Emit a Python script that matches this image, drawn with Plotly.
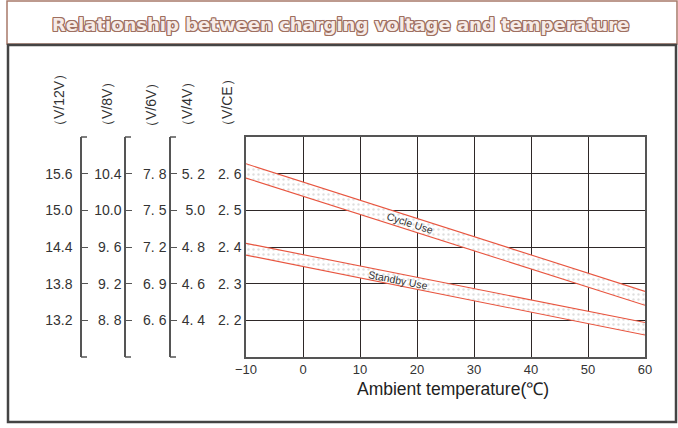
import numpy as np
import plotly.graph_objects as go

# ---- data ----
temps = [-10, 60]
cycle_upper = [2.627, 2.279]
cycle_lower = [2.588, 2.241]
standby_upper = [2.410, 2.194]
standby_lower = [2.378, 2.160]

x_ticks = [-10, 0, 10, 20, 30, 40, 50, 60]
ce_vals = [2.2, 2.3, 2.4, 2.5, 2.6]
ce_text = ["2. 2", "2. 3", "2. 4", "2. 5", "2. 6"]
v4_text = ["4. 4", "4. 6", "4. 8", "5.0", "5. 2"]
v6_text = ["6. 6", "6. 9", "7. 2", "7. 5", "7. 8"]
v8_text = ["8. 8", "9. 2", "9. 6", "10.0", "10.4"]
v12_text = ["13.2", "13.8", "14.4", "15.0", "15.6"]
col_titles = ["（V/12V）", "（V/8V）", "（V/6V）", "（V/4V）", "（V/CE）"]
multipliers = [6, 4, 3, 2, 1]

W, H = 678, 428
ML, MR, MT, MB = 0, 33, 137, 71
PW = W - ML - MR
PH = H - MT - MB


def px(xp):
    return (xp - ML) / PW


def py(yp):
    return (H - MB - yp) / PH


RED = "#e8553f"
FONT = "Liberation Sans, Arial, sans-serif"
pattern = dict(shape=".", fgcolor="#bdbdbd", bgcolor="white", size=5, solidity=0.18)

fig = go.Figure()
fig.add_trace(go.Scatter(x=temps, y=cycle_lower, mode="lines",
                         line=dict(color=RED, width=1.1), hoverinfo="skip", showlegend=False))
fig.add_trace(go.Scatter(x=temps, y=cycle_upper, mode="lines", fill="tonexty",
                         fillcolor="white", fillpattern=pattern,
                         line=dict(color=RED, width=1.1), hoverinfo="skip", showlegend=False))
fig.add_trace(go.Scatter(x=temps, y=standby_lower, mode="lines",
                         line=dict(color=RED, width=1.1), hoverinfo="skip", showlegend=False))
fig.add_trace(go.Scatter(x=temps, y=standby_upper, mode="lines", fill="tonexty",
                         fillcolor="white", fillpattern=pattern,
                         line=dict(color=RED, width=1.1), hoverinfo="skip", showlegend=False))

ymin, ymax = 2.1, 2.7
eps = 1e-4
layout_axes = {}
bracket_x = []
extra = [("y2", v12_text, 6, 81, True, 5), ("y3", v8_text, 4, 125, True, 0),
         ("y4", v6_text, 3, 170, True, 0), ("y5", v4_text, 2, 205, False, 0)]
for name, texts, k, xpos, line, standoff in extra:
    fig.add_trace(go.Scatter(x=[None], y=[None], yaxis=name, showlegend=False, hoverinfo="skip"))
    tv = [v * k for v in ce_vals]
    ax = dict(overlaying="y", anchor="free", position=px(xpos), side="left",
              range=[ymin * k - eps, ymax * k + eps], tickvals=tv, ticktext=texts, automargin=False,
              showgrid=False, zeroline=False, showline=line,
              linecolor="#555", linewidth=1.5, ticklabelstandoff=standoff,
              ticks="inside" if line else "", ticklen=6, tickwidth=1.2, tickcolor="#555",
              tickfont=dict(family=FONT, size=14, color="#333"))
    layout_axes["yaxis" + name[1:]] = ax
    if line:
        bracket_x.append(xpos)

fig.update_layout(
    width=W, height=H,
    margin=dict(l=ML, r=MR, t=MT, b=MB, autoexpand=False),
    paper_bgcolor="white", plot_bgcolor="white",
    xaxis=dict(domain=[px(246), 1], range=[-10, 60], tickvals=x_ticks, automargin=False,
               showgrid=True, gridcolor="#2e2828", gridwidth=1.3,
               showline=True, mirror=True, linecolor="#555", linewidth=1.5,
               zeroline=False, ticks="",
               tickfont=dict(family=FONT, size=13, color="#333")),
    yaxis=dict(range=[ymin, ymax], tickvals=ce_vals, ticktext=ce_text, automargin=False,
               showgrid=True, gridcolor="#2e2828", gridwidth=1.3,
               showline=True, mirror=True, linecolor="#555", linewidth=1.5,
               zeroline=False, ticks="",
               tickfont=dict(family=FONT, size=14, color="#333")),
    **layout_axes,
)

# bracket serifs (top and bottom of each left scale line)
for xb in bracket_x:
    for yb in (0, 1):
        fig.add_shape(type="line", xref="paper", yref="paper",
                      x0=px(xb), x1=px(xb + 6), y0=yb, y1=yb,
                      line=dict(color="#555", width=1.5))

# column titles
title_x = [59, 107, 151, 187, 227]
title_y = [100, 104, 105, 104, 103]
for t, xp, yp in zip(col_titles, title_x, title_y):
    fig.add_annotation(x=px(xp), y=py(yp), xref="paper", yref="paper", text=t,
                       textangle=-90, showarrow=False, xanchor="center", yanchor="middle",
                       font=dict(family=FONT, size=14, color="#333"))

# band labels
cx = 18.8
fig.add_annotation(x=cx, y=(np.interp(cx, temps, cycle_upper) + np.interp(cx, temps, cycle_lower)) / 2,
                   text="Cycle Use", textangle=17.8, showarrow=False,
                   xanchor="center", yanchor="middle",
                   font=dict(family=FONT, size=10.5, color="#333"))
sx = 16.7
fig.add_annotation(x=sx, y=(np.interp(sx, temps, standby_upper) + np.interp(sx, temps, standby_lower)) / 2,
                   text="Standby Use", textangle=11.2, showarrow=False,
                   xanchor="center", yanchor="middle",
                   font=dict(family=FONT, size=10.5, color="#333"))

# x-axis title
fig.add_annotation(x=px(453), y=py(389), xref="paper", yref="paper",
                   text="Ambient temperature(℃)", showarrow=False,
                   xanchor="center", yanchor="middle",
                   font=dict(family=FONT, size=17.5, color="#222"))

# chart title
OUT = "#9e6f60"
fig.add_annotation(x=px(340), y=py(24), xref="paper", yref="paper",
                   text="<b>Relationship between charging voltage and temperature</b>",
                   showarrow=False, xanchor="center", yanchor="middle",
                   font=dict(family="DejaVu Sans, sans-serif", size=18, color="#f6ebe7",
                             shadow=f"1px 0 0 {OUT}, -1px 0 0 {OUT}, 0 1px 0 {OUT}, 0 -1px 0 {OUT}, 1px 1px 0 {OUT}, -1px -1px 0 {OUT}, 1px -1px 0 {OUT}, -1px 1px 0 {OUT}"))

# frames
fig.add_shape(type="rect", xref="paper", yref="paper", x0=px(7), x1=px(677), y0=py(44), y1=py(1),
              line=dict(color="#a87a6a", width=1.5), layer="below")
fig.add_shape(type="rect", xref="paper", yref="paper", x0=px(8), x1=px(676), y0=py(422), y1=py(45),
              line=dict(color="#444", width=2.5), layer="below")

fig.write_html("out.html", config={"displayModeBar": False},
               post_script="document.body.style.margin='0';")
